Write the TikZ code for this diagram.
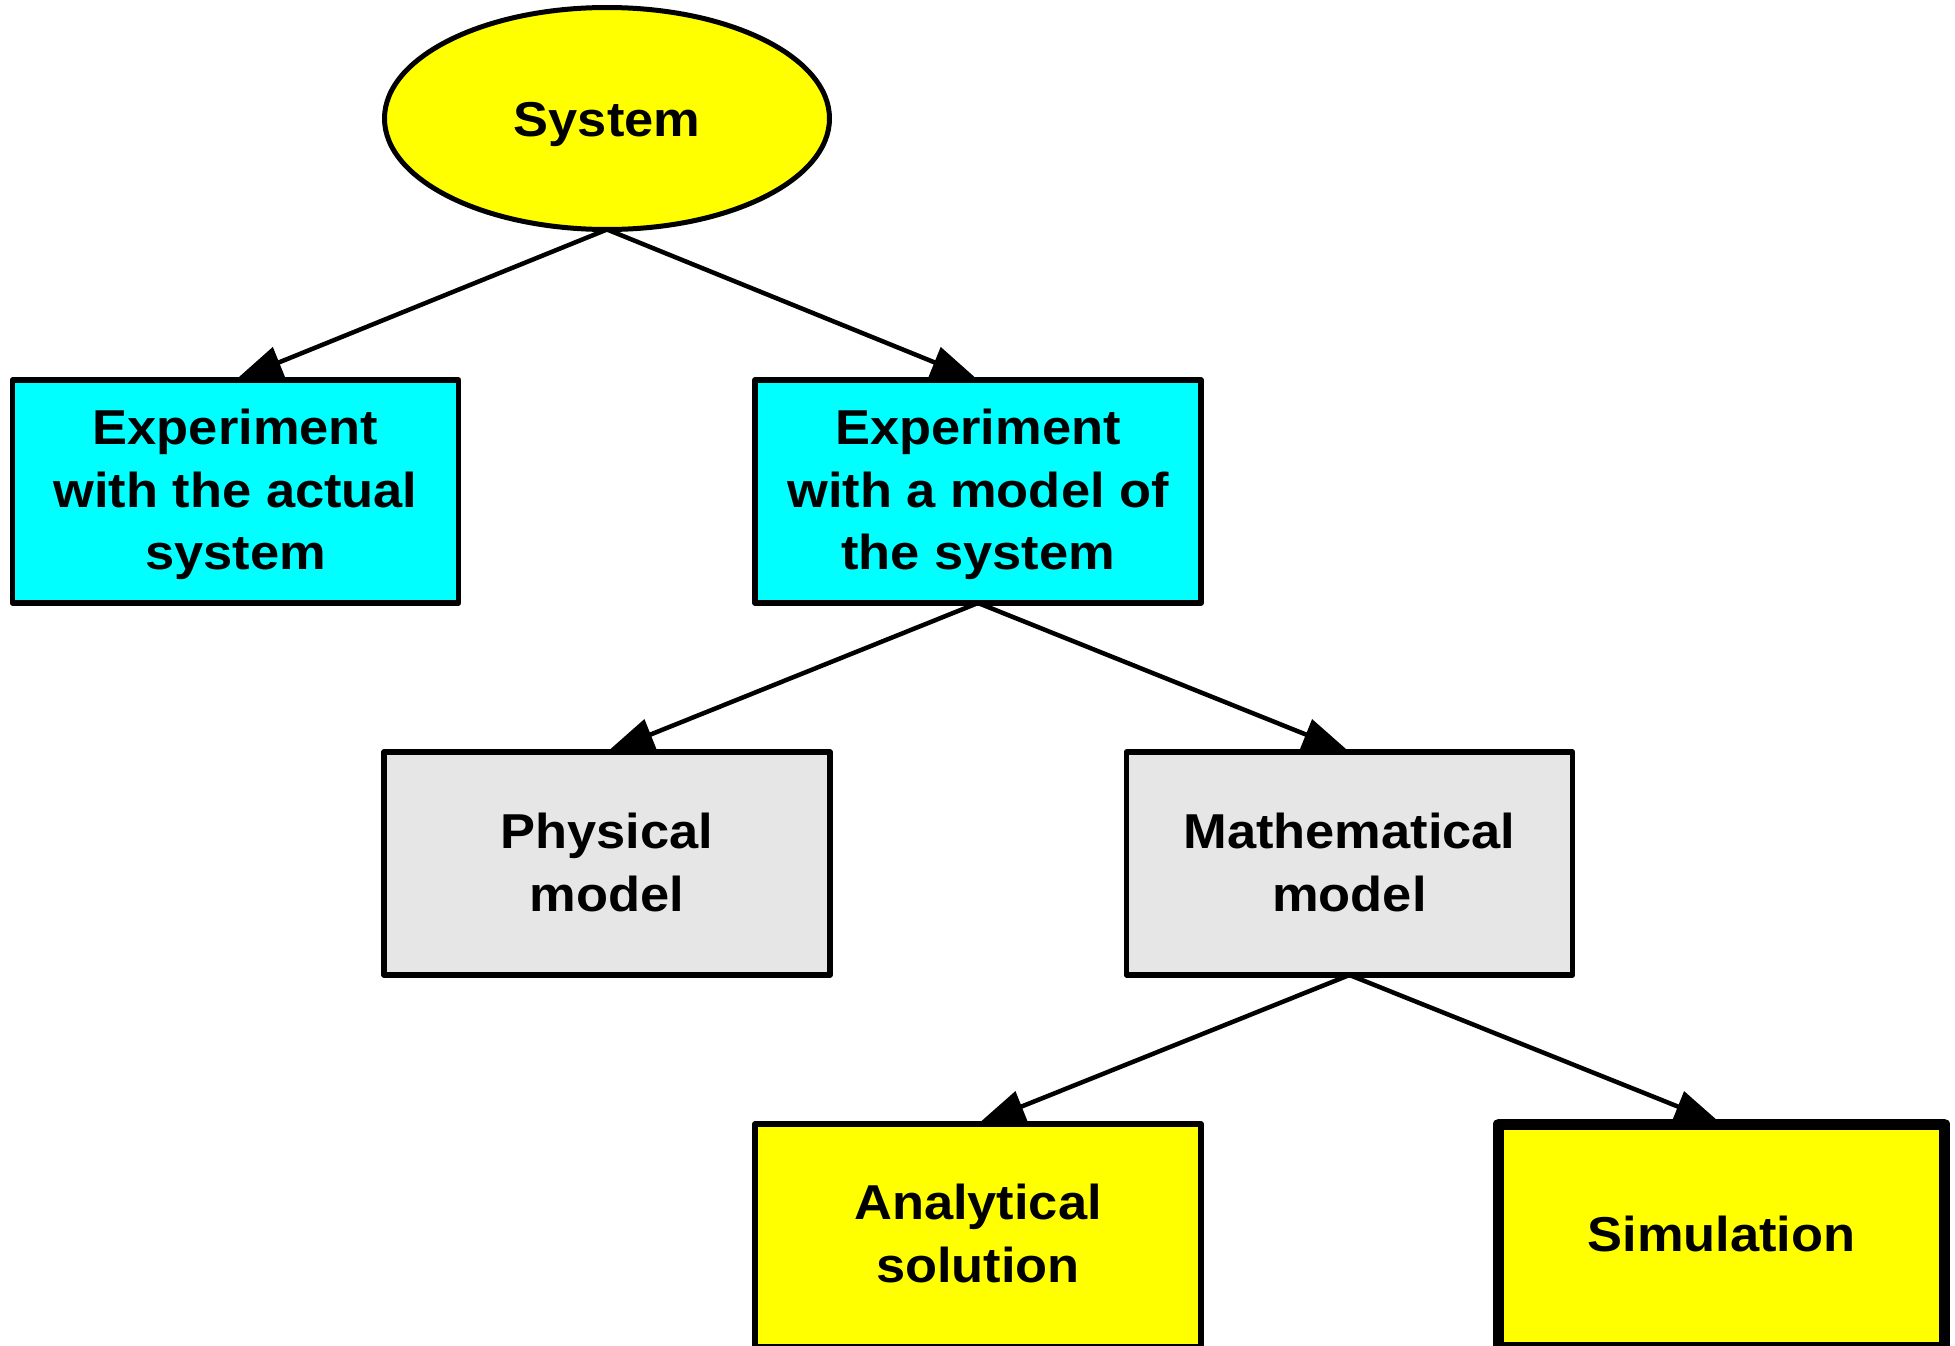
\documentclass[tikz,border=0pt]{standalone}
\usepackage{fontspec}
\setmainfont{Liberation Sans}[FakeStretch=1.07]
\usetikzlibrary{arrows.meta,shapes.geometric}
\pgfdeclarelayer{bg}
\pgfsetlayers{bg,main}
\definecolor{cyanbox}{HTML}{00FFFF}
\definecolor{yellowbox}{HTML}{FFFF00}
\definecolor{graybox}{HTML}{E6E6E6}
\tikzset{
  txt/.style={font=\fontsize{49}{62.5}\selectfont\bfseries, align=center, text=black, inner sep=0pt},
  box/.style={rectangle, draw=black, line width=5.5pt, minimum width=446pt, minimum height=223pt, inner sep=0pt, outer sep=0pt, line join=round},
  oval/.style={ellipse, draw=black, line width=5pt, minimum width=445pt, minimum height=222pt, inner sep=0pt, outer sep=0pt, fill=yellowbox},
  lbl/.style 2 args={label={[txt,yshift=#1]center:{#2}}},
  conn/.style={draw=black, line width=4.5pt, -{Triangle[length=47pt,width=32pt]}}
}
\begin{document}
\begin{tikzpicture}[x=1pt,y=-1pt]
\begin{pgfonlayer}{bg}
\fill[white] (0,0) rectangle (1955,1346);
\end{pgfonlayer}
\useasboundingbox (0,0) rectangle (1955,1346);
\node[oval, lbl={-5.5pt}{System}] (sys) at (607,118.5) {};
\node[box, fill=cyanbox, lbl={-3pt}{Experiment\\with the actual\\system}] (act) at (235.5,491.5) {};
\node[box, fill=cyanbox, lbl={-3pt}{Experiment\\with a model of\\the system}] (mod) at (978,491.5) {};
\node[box, fill=graybox, lbl={1pt}{Physical\\model}] (phy) at (607,863.5) {};
\node[box, fill=graybox, lbl={1pt}{Mathematical\\model}] (math) at (1349.5,863.5) {};
\node[box, fill=yellowbox, lbl={2pt}{Analytical\\solution}] (ana) at (978,1235.5) {};
\node[box, fill=yellowbox, line width=11pt, lbl={2pt}{Simulation}] (sim) at (1721.5,1235.5) {};
\begin{pgfonlayer}{bg}
\draw[conn] (sys.south) -- (act.north);
\draw[conn] (sys.south) -- (mod.north);
\draw[conn] (mod.south) -- (phy.north);
\draw[conn] (mod.south) -- (math.north);
\draw[conn] (math.south) -- (ana.north);
\draw[conn] (math.south) -- (sim.north);
\end{pgfonlayer}
\end{tikzpicture}
\end{document}
